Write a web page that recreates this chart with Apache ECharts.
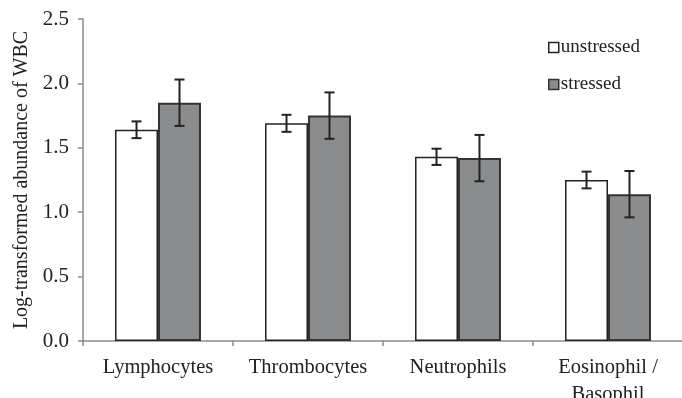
<!DOCTYPE html>
<html><head><meta charset="utf-8">
<script src="https://cdn.jsdelivr.net/npm/echarts@6/dist/echarts.min.js"></script>
<style>html,body{margin:0;padding:0;background:#fff}#c{width:682px;height:398px}</style>
</head><body><div id="c"></div>
<script>
var categories = ['Lymphocytes', 'Thrombocytes', 'Neutrophils', 'Eosinophil /\nBasophil'];
var unstressed = [1.64, 1.69, 1.43, 1.25];
var stressed = [1.85, 1.75, 1.42, 1.14];
var unstressedErr = [0.065, 0.066, 0.063, 0.065];
var stressedErr = [0.18, 0.18, 0.18, 0.18];
var yTicks = [0, 0.5, 1.0, 1.5, 2.0, 2.5];

var FONT = '"Liberation Serif", "Times New Roman", serif';
var GAP = 0.427;

function errSeries(vals, errs, side) {
  return {
    type: 'custom',
    z: 10,
    silent: true,
    data: vals.map(function (v, i) { return [i, v, errs[i]]; }),
    renderItem: function (params, api) {
      var i = api.value(0), v = api.value(1), e = api.value(2);
      var band = api.size([1, 0])[0];
      var off = side * band * (1 - GAP) / 4;
      var top = api.coord([i, v + e]);
      var bot = api.coord([i, v - e]);
      var x = top[0] + off;
      var cap = 5;
      var st = { stroke: '#222', lineWidth: 2 };
      return { type: 'group', children: [
        { type: 'line', shape: { x1: x, y1: top[1], x2: x, y2: bot[1] }, style: st },
        { type: 'line', shape: { x1: x - cap, y1: top[1], x2: x + cap, y2: top[1] }, style: st },
        { type: 'line', shape: { x1: x - cap, y1: bot[1], x2: x + cap, y2: bot[1] }, style: st }
      ]};
    }
  };
}

var chart = echarts.init(document.getElementById('c'));
chart.setOption({
  animation: false,
  textStyle: { fontFamily: FONT },
  grid: { left: 83, top: 19, width: 600, height: 322, containLabel: false, outerBoundsMode: 'none' },
  legend: {
    orient: 'vertical', left: 543, top: 33, itemGap: 18,
    itemWidth: 10, itemHeight: 10,
    textStyle: { fontFamily: FONT, fontSize: 19, color: '#222', padding: [0, 0, 0, -3] },
    data: [
      { name: 'unstressed', icon: 'rect', itemStyle: { color: '#fff', borderColor: '#222', borderWidth: 1.5 } },
      { name: 'stressed', icon: 'rect', itemStyle: { color: '#8b8c8e', borderColor: '#333', borderWidth: 1.5 } }
    ]
  },
  xAxis: {
    type: 'category', data: categories,
    axisLine: { lineStyle: { color: '#8a8a8a', width: 1.5 } },
    axisTick: { show: true, length: 5, lineStyle: { color: '#8a8a8a', width: 1.5 } },
    axisLabel: { fontFamily: FONT, fontSize: 20.5, color: '#222', margin: 13, lineHeight: 27, interval: 0 }
  },
  yAxis: {
    type: 'value', min: 0, max: 2.5, interval: 0.5,
    name: 'Log-transformed abundance of WBC',
    nameLocation: 'middle', nameGap: 49,
    nameTextStyle: { fontFamily: FONT, fontSize: 20, color: '#222' },
    axisLine: { show: true, lineStyle: { color: '#8a8a8a', width: 1.5 } },
    axisTick: { show: true, length: 5, lineStyle: { color: '#8a8a8a', width: 1.5 } },
    splitLine: { show: false },
    axisLabel: { fontFamily: FONT, fontSize: 21, color: '#222', margin: 14,
      formatter: function (v) { return v.toFixed(1); } }
  },
  series: [
    { name: 'unstressed', type: 'bar', data: unstressed, barGap: 0, barCategoryGap: (GAP * 100) + '%',
      itemStyle: { color: '#fff', borderColor: '#222', borderWidth: 1.5 } },
    { name: 'stressed', type: 'bar', data: stressed, barGap: 0, barCategoryGap: (GAP * 100) + '%',
      itemStyle: { color: '#8b8c8e', borderColor: '#333', borderWidth: 2 } },
    errSeries(unstressed, unstressedErr, -1),
    errSeries(stressed, stressedErr, 1)
  ]
});
</script></body></html>
